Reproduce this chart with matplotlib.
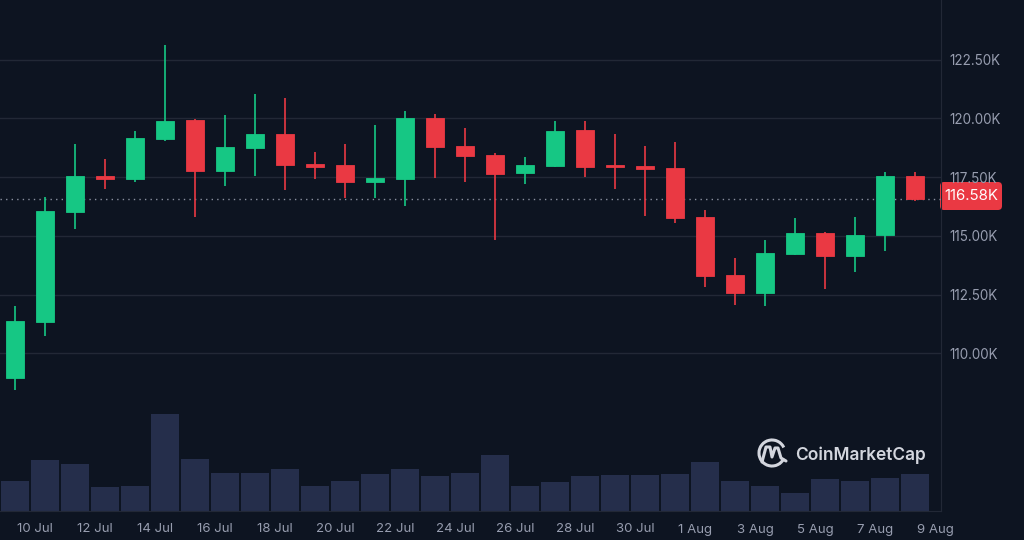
import matplotlib
matplotlib.use("Agg")
import matplotlib.pyplot as plt
from matplotlib.patches import FancyBboxPatch, Arc, Rectangle
import numpy as np

# ---- data ----
dates = ["9 Jul", "10 Jul", "11 Jul", "12 Jul", "13 Jul", "14 Jul", "15 Jul", "16 Jul",
         "17 Jul", "18 Jul", "19 Jul", "20 Jul", "21 Jul", "22 Jul", "23 Jul", "24 Jul",
         "25 Jul", "26 Jul", "27 Jul", "28 Jul", "29 Jul", "30 Jul", "31 Jul", "1 Aug",
         "2 Aug", "3 Aug", "4 Aug", "5 Aug", "6 Aug", "7 Aug", "8 Aug"]
opens = [108936, 111345, 116013, 117557, 117417, 119119, 119928, 117770,
         118723, 119319, 118055, 118013, 117302, 117417, 120026, 118821,
         118426, 117672, 117970, 119515, 117983, 117970, 117872, 115800,
         113345, 112553, 114213, 115106, 114153, 115047, 117557]
highs = [112013, 116651, 118906, 118268, 119472, 123132, 119983, 120128,
         121021, 120864, 118553, 118906, 119715, 120323, 120183, 119587,
         118511, 118353, 119885, 119885, 119319, 118834, 118979, 116111,
         114055, 114821, 115757, 115162, 115800, 117715, 117715]
lows = [108438, 110736, 115302, 117004, 117302, 119021, 115813, 117119,
        117557, 116962, 117417, 116621, 116621, 116268, 117472, 117302,
        114809, 117217, 117915, 117515, 117004, 115855, 115557, 112809,
        112068, 112013, 114190, 112749, 113460, 114366, 116468]
closes = [111387, 116055, 117557, 117417, 119174, 119872, 117770, 118766,
          119319, 118026, 117928, 117302, 117447, 120026, 118779, 118383,
          117630, 118013, 119472, 117928, 117928, 117830, 115757, 113302,
          112553, 114255, 115106, 114153, 115047, 117557, 116580]
volumes_b = [30, 51, 46.7, 24, 25, 97, 52, 38, 38, 41.7, 25, 30, 37, 41.7, 34.7, 38,
             55.7, 25, 28.7, 34.7, 35.7, 35.7, 37, 48.7, 30, 25, 18, 32, 30, 33.3, 37]
tick_labels = ["10 Jul", "12 Jul", "14 Jul", "16 Jul", "18 Jul", "20 Jul", "22 Jul",
               "24 Jul", "26 Jul", "28 Jul", "30 Jul", "1 Aug", "3 Aug", "5 Aug",
               "7 Aug", "9 Aug"]
price_ticks = [110000, 112500, 115000, 117500, 120000, 122500]
last_price = 116580

# ---- style ----
BG = "#0d1421"
GRID = "#222836"
TXT = "#979daf"
GREEN = "#16c784"
RED = "#ea3943"
VOLC = "#252e4b"

W, H = 1024, 540
fig = plt.figure(figsize=(W / 100, H / 100), dpi=100, facecolor=BG)

ax_l, ax_b = 0 / W, (H - 511) / H
ax_w, ax_h = 941 / W, 511 / H
ax = fig.add_axes([ax_l, ax_b, ax_w, ax_h], facecolor=BG)
axv = fig.add_axes([ax_l, ax_b, ax_w, ax_h], facecolor="none", sharex=ax)

n = len(dates)
x = np.arange(n)

# volume
axv.bar(x, volumes_b, width=0.965, color=VOLC, edgecolor="none", zorder=1)
axv.set_ylim(0, 511)
axv.set_yticks([])
for s in axv.spines.values():
    s.set_visible(False)

# price axes
ax.set_ylim(103289, 125034)
ax.set_xlim(-0.5, 30.867)
ax.yaxis.tick_right()
ax.set_yticks(price_ticks)
ax.set_yticklabels([f"{v/1000:.2f}K" for v in price_ticks])
ax.grid(axis="y", color=GRID, linewidth=1)
ax.grid(axis="x", visible=False)
ax.tick_params(axis="y", length=0, pad=6, labelcolor=TXT, labelsize=9.7)
for s in ["top", "left"]:
    ax.spines[s].set_visible(False)
ax.spines["right"].set_color(GRID)
ax.spines["bottom"].set_color(GRID)
ax.set_zorder(axv.get_zorder() + 1)
ax.patch.set_visible(False)
axv.set_zorder(0)

# x ticks
ax.set_xticks(np.arange(1, 32, 2) - 0.33)
ax.set_xticklabels(tick_labels)
ax.tick_params(axis="x", length=0, pad=9, labelcolor=TXT, labelsize=9.5)
plt.setp(axv.get_xticklabels(), visible=False)
axv.tick_params(axis="x", length=0)

for lbl in ax.get_yticklabels() + ax.get_xticklabels():
    lbl.set_fontfamily(["Inter", "DejaVu Sans"])

# candles
bw = 0.58
min_h = 70
for i in range(n):
    o, h, l, c = opens[i], highs[i], lows[i], closes[i]
    col = GREEN if c >= o else RED
    ax.vlines(x[i], l, h, color=col, linewidth=1.2, zorder=3)
    bot = min(o, c)
    height = max(abs(c - o), min_h)
    ax.add_patch(Rectangle((x[i] - bw / 2, bot), bw, height, facecolor=col,
                           edgecolor=col, linewidth=0.6, zorder=4))

# last price dotted line
ax.axhline(last_price, color="#8a90a0", linestyle=(0, (1, 3)), linewidth=1, zorder=2)

# overlay for decorations (pixel coords)
ov = fig.add_axes([0, 0, 1, 1], facecolor="none")
ov.set_xlim(0, W)
ov.set_ylim(H, 0)
ov.axis("off")

# price label box
ov.add_patch(FancyBboxPatch((940, 182), 62, 28, boxstyle="round,pad=0,rounding_size=4",
                            facecolor=RED, edgecolor="none"))
ov.text(971, 196.5, f"{last_price/1000:.2f}K", color="white", fontsize=10.8,
        ha="center", va="center", family=["Inter", "DejaVu Sans"])

# watermark logo
LOGO = "#d3d6de"
ov.add_patch(Arc((772, 453), 26, 26, theta1=25, theta2=335, color=LOGO, linewidth=2.2))
wx = [762, 766, 770, 772, 775, 778, 781, 786]
wy = [462, 447, 447, 457, 448, 448, 458, 461]
ov.plot(wx, wy, color=LOGO, linewidth=2.2, solid_capstyle="round", solid_joinstyle="round")
ov.text(795, 455, "CoinMarketCap", color=LOGO, fontsize=12.5, fontweight="semibold",
        ha="left", va="center", family=["Inter", "DejaVu Sans"])

fig.savefig("out.png", dpi=100, facecolor=BG)
